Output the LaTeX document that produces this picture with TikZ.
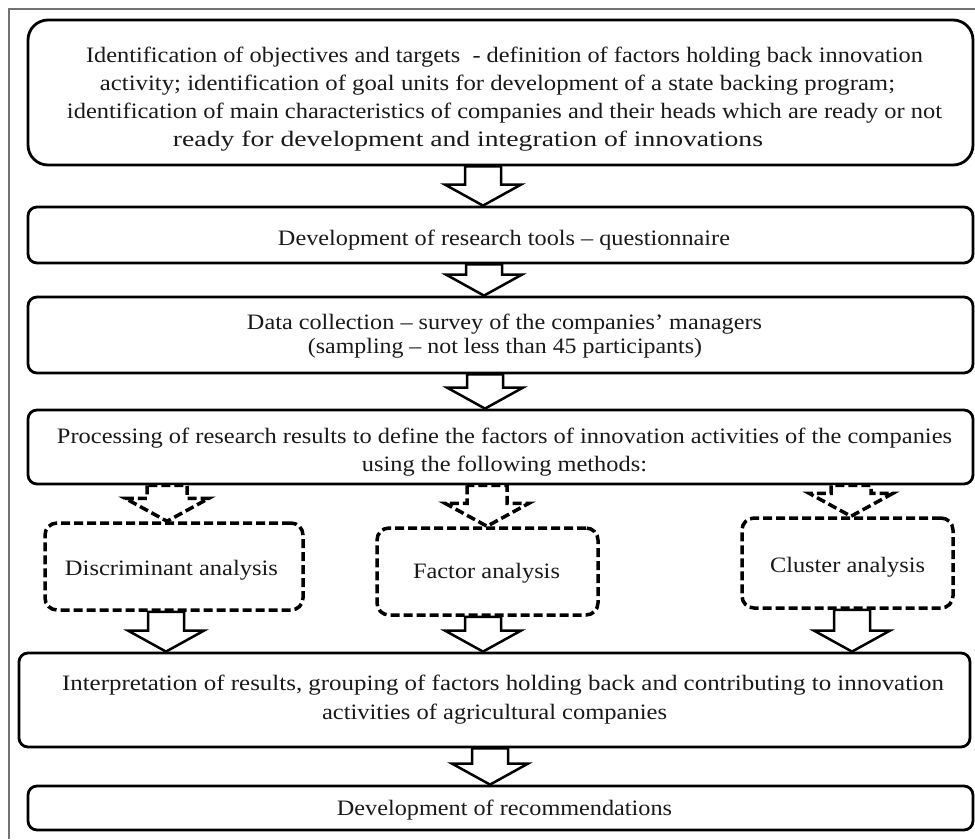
\documentclass[tikz,border=0pt]{standalone}
\usepackage{graphicx}
\usepackage{fontspec}
\setmainfont{Liberation Serif}
\usetikzlibrary{calc}
% one printed line: #1 horizontal offset (twice the shift), #2 lowering, #3 width, #4 text
\newcommand\Ln[4]{\hspace*{#1}\raisebox{-#2}[15pt][5pt]{\resizebox{#3}{\height}{#4}}}
\begin{document}
\begin{tikzpicture}[x=1pt,y=-1pt,
  txt/.style={font=\fontsize{22}{28}\selectfont, text=black!90},
  box/.style={txt, draw, line width=2.8pt, rounded corners=9pt, minimum width=945pt, align=center, inner sep=0pt},
  dbox/.style={txt, draw, line width=3.5pt, rounded corners=12pt, dash pattern=on 9pt off 4pt, align=center, inner sep=0pt},
  barrow/.style={line width=2.5pt, fill=white, line join=miter,
    to path={let \p1=(\tikztostart), \p2=(\tikztotarget) in
      (\x1-18pt,\y1) -- (\x1-18pt,\y2+21pt) -- (\x1-38pt,\y2+21pt) -- (\x1,\y2) --
      (\x1+38pt,\y2+21pt) -- (\x1+18pt,\y2+21pt) -- (\x1+18pt,\y1) -- cycle}},
  darrow/.style={barrow, line width=3.5pt, dash pattern=on 9pt off 4pt,
    to path={let \p1=(\tikztostart), \p2=(\tikztotarget) in
      (\x1-20pt,\y1) -- (\x1-20pt,\y2+23pt) -- (\x1-42pt,\y2+23pt) -- (\x1,\y2) --
      (\x1+42pt,\y2+23pt) -- (\x1+20pt,\y2+23pt) -- (\x1+20pt,\y1) -- cycle}}
]
\useasboundingbox (0,0) rectangle (975,839);
\fill[white] (0,0) rectangle (975,839);
\draw[black!55, line width=1.2pt] (9,839) -- (9,9) -- (975,9);

\node[box, rounded corners=20pt, minimum height=145pt] (b1) at (500.5,92.5)
  {\Ln{8pt}{6.5pt}{837pt}{Identification of objectives and targets\ \ - definition of factors holding back innovation}\\
   \Ln{-6pt}{6.5pt}{795pt}{activity; identification of goal units for development of a state backing program;}\\
   \Ln{8pt}{6.5pt}{875pt}{identification of main characteristics of companies and their heads which are ready or not}\\
   \Ln{-65pt}{6.5pt}{590pt}{ready for development and integration of innovations}};
\node[box, minimum height=56pt] (b2) at (500.5,235)
  {\Ln{7pt}{5pt}{452pt}{Development of research tools -- questionnaire}};
\node[box, font=\fontsize{22}{24}\selectfont, minimum height=76pt] (b3) at (500.5,335)
  {\Ln{8pt}{1pt}{515pt}{Data collection -- survey of the companies’ managers}\\
   \Ln{9pt}{1pt}{394pt}{(sampling -- not less than 45 participants)}};
\node[box, minimum height=74pt] (b4) at (500.5,447)
  {\Ln{8pt}{5pt}{895pt}{Processing of research results to define the factors of innovation activities of the companies}\\
   \Ln{8pt}{5pt}{285pt}{using the following methods:}};
\node[dbox, minimum width=258pt, minimum height=87pt] (da) at (174,566.5)
  {\Ln{-5pt}{3.5pt}{213pt}{Discriminant analysis}};
\node[dbox, minimum width=221pt, minimum height=87pt] (fa) at (487.5,571.5)
  {\Ln{-2pt}{1.5pt}{147pt}{Factor analysis}};
\node[dbox, minimum width=211pt, minimum height=90pt] (ca) at (847.5,563)
  {\Ln{0pt}{4pt}{155pt}{Cluster analysis}};
\node[box, font=\fontsize{22}{29}\selectfont, minimum width=951pt, minimum height=94pt] (b5) at (494.5,700)
  {\Ln{17pt}{0pt}{882pt}{Interpretation of results, grouping of factors holding back and contributing to innovation}\\
   \Ln{0pt}{0pt}{345pt}{activities of agricultural companies}};
\node[box, minimum height=44pt] (b6) at (500.5,808)
  {\Ln{8pt}{2pt}{335pt}{Development of recommendations}};

\draw[barrow] (b1.south -| 483,0) to (b2.north -| 483,0);
\draw[barrow] (b2.south -| 484,0) to (b3.north -| 484,0);
\draw[barrow] (b3.south -| 485,0) to (b4.north -| 485,0);
\draw[darrow] (b4.south -| 167,0) to (da.north -| 167,0);
\draw[darrow] (b4.south -| 487,0) to (fa.north -| 487,0);
\draw[darrow] (b4.south -| 851,0) to (ca.north -| 851,0);
\draw[barrow] (da.south -| 166,0) to (b5.north -| 166,0);
\draw[barrow] (fa.south -| 483,0) to (b5.north -| 483,0);
\draw[barrow] (ca.south -| 852,0) to (b5.north -| 852,0);
\draw[barrow] (b5.south -| 490,0) to (b6.north -| 490,0);
\end{tikzpicture}
\end{document}
